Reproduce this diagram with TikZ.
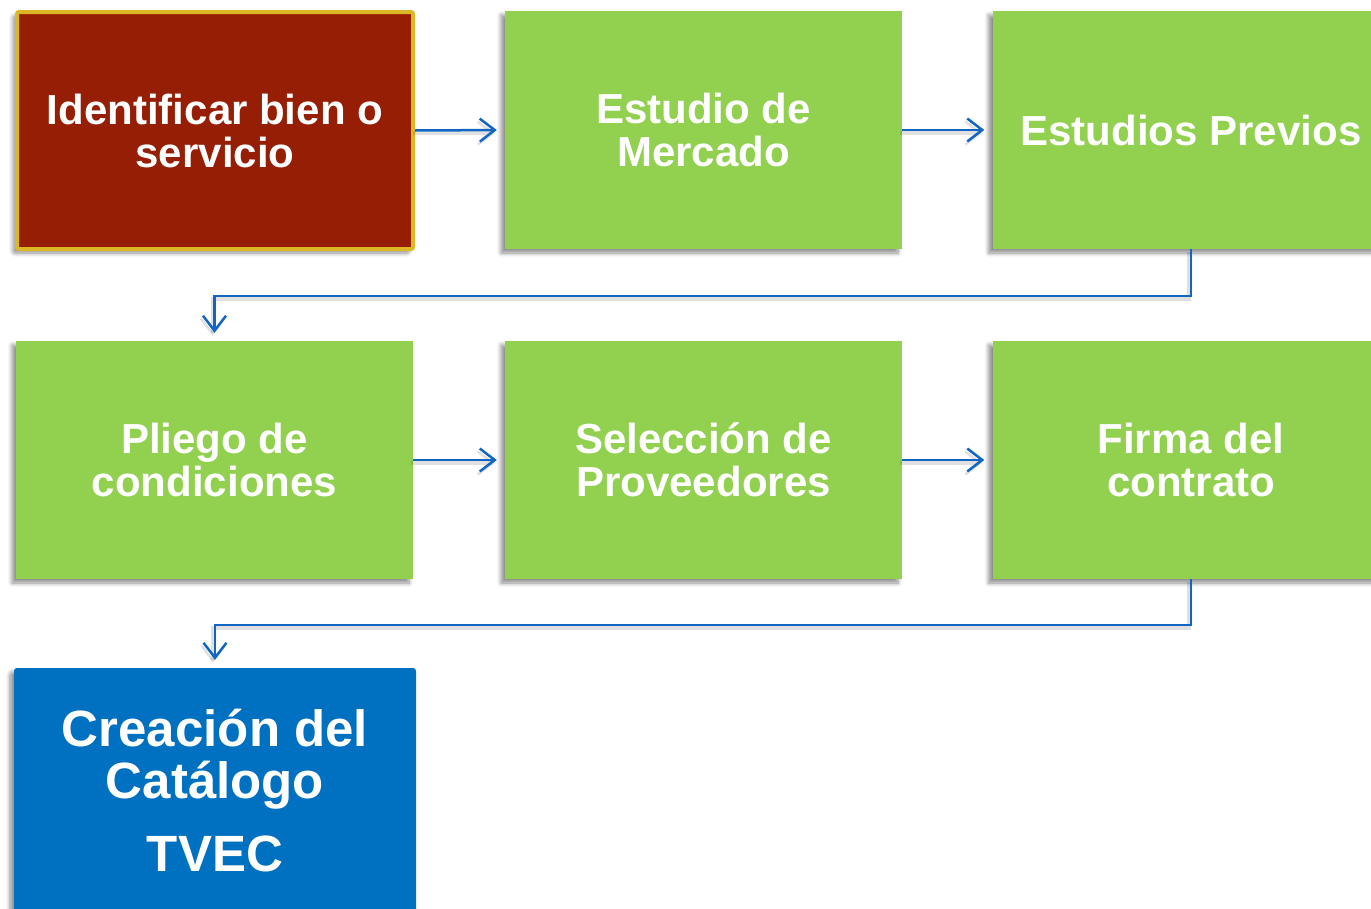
\documentclass[tikz,border=0pt]{standalone}
\usepackage{fontspec}
\setmainfont{Liberation Sans}
\usetikzlibrary{arrows.meta,shadows.blur}
\definecolor{maroon}{HTML}{951E04}
\definecolor{gold}{HTML}{DDB826}
\definecolor{boxgreen}{HTML}{92D050}
\definecolor{boxblue}{HTML}{0070C0}
\definecolor{arrowblue}{HTML}{1066C2}
\tikzset{
  shad/.style={blur shadow={shadow xshift=-4pt, shadow yshift=-4pt, shadow blur steps=6, shadow blur radius=4pt, shadow opacity=45}},
  stepbox/.style={shad, rectangle, fill=boxgreen, minimum width=397pt, minimum height=238pt, inner sep=0pt, align=center, text=white, font=\bfseries\fontsize{42}{43}\selectfont},
  firstbox/.style={stepbox, fill=maroon, draw=gold, line width=4pt, rounded corners=2pt, minimum width=396pt, minimum height=237pt},
  lastbox/.style={stepbox, fill=boxblue, rounded corners=3pt, minimum width=402pt, minimum height=246pt, font=\bfseries\fontsize{51}{52}\selectfont},
  conn/.style={draw=arrowblue, line width=2.5pt, shorten >=8pt, -{Straight Barb[length=15pt,width=23pt,line width=2.5pt]},
    preaction={draw=black, draw opacity=0.12, line width=3.5pt, transform canvas={xshift=-2pt,yshift=-3pt}}}
}
\begin{document}
\begin{tikzpicture}[x=1pt,y=-1pt]
\useasboundingbox (0,0) rectangle (1371,908);
\clip (0,0) rectangle (1371,908);
\node[firstbox] (b1) at (215,130.5) {Identificar bien o\\servicio};
\node[stepbox] (b2) at (703.5,130) {Estudio de\\Mercado};
\node[stepbox] (b3) at (1191,130) {Estudios Previos};
\node[stepbox] (b4) at (214.5,460) {Pliego de\\condiciones};
\node[stepbox] (b5) at (703.5,460) {Selección de\\Proveedores};
\node[stepbox] (b6) at (1191,460) {Firma del\\contrato};
\node[lastbox] (b7) at (215,791) {Creación del\\Catálogo\\[21pt]TVEC};
\draw[conn] (b1.east) -- (b2.west);
\draw[conn] (b2.east) -- (b3.west);
\draw[conn] (b3.south) -- ++(0,47) -| (b4.north);
\draw[conn] (b4.east) -- (b5.west);
\draw[conn] (b5.east) -- (b6.west);
\draw[conn] (b6.south) -- ++(0,46) -| (b7.north);
\end{tikzpicture}
\end{document}
